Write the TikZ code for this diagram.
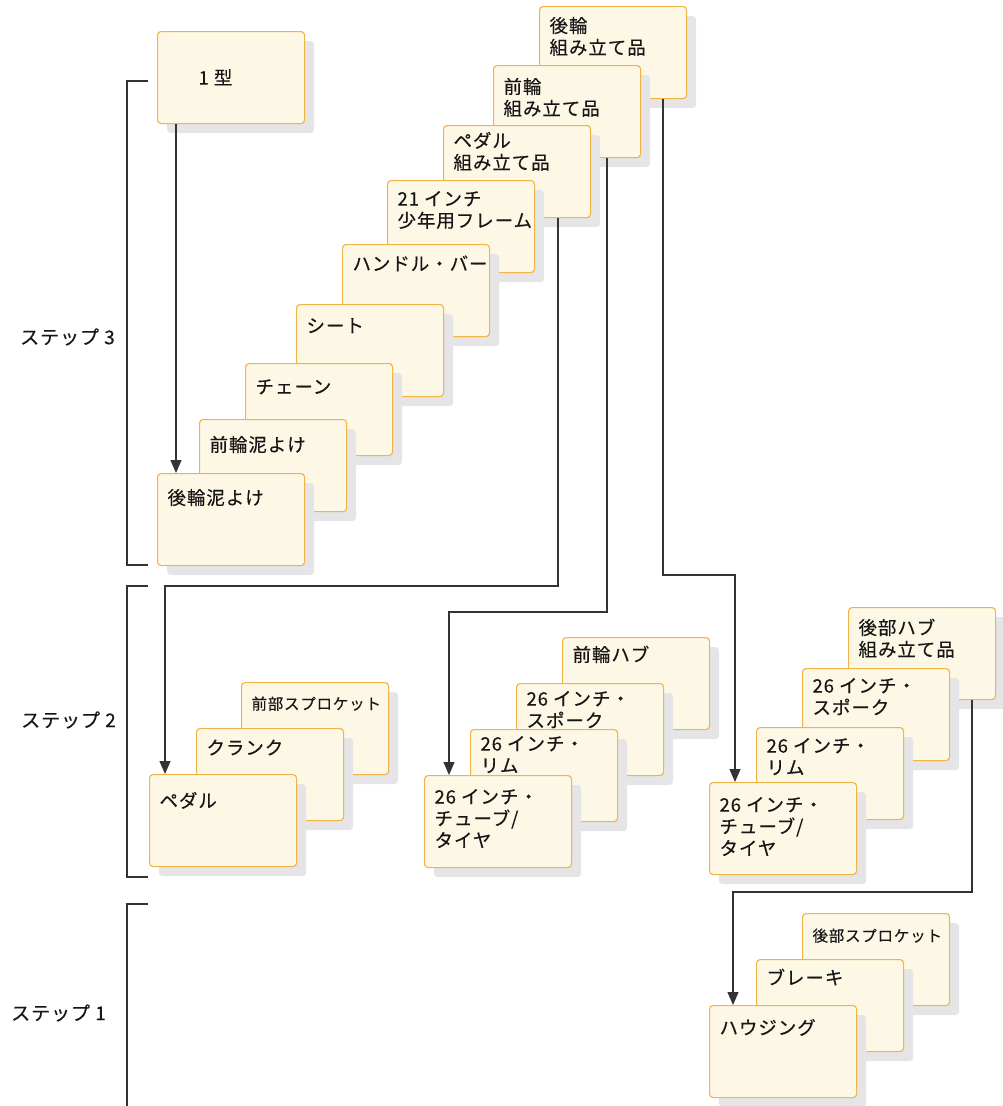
\documentclass[tikz,border=0pt]{standalone}
\usepackage{fontspec}
\setmainfont{Noto Sans CJK JP}[LetterSpace=5,FakeBold=0.3]
\usetikzlibrary{shadows,arrows.meta}
\definecolor{boxfill}{HTML}{FDF7E5}
\definecolor{boxline}{HTML}{F2B347}
\definecolor{shadowgray}{HTML}{E5E5E7}
\definecolor{linegray}{HTML}{333333}
\definecolor{textgray}{HTML}{161616}
\tikzset{
  part/.style={draw=boxline, line width=1.1pt, fill=boxfill, rounded corners=3.5pt,
    minimum width=147pt, minimum height=92pt, inner xsep=10pt, inner ysep=0pt,
    anchor=north west, text=textgray,
    drop shadow={shadow xshift=9.5pt, shadow yshift=-9.5pt, fill=shadowgray, opacity=1}},
  conn/.style={draw=linegray, line width=1.2pt, -{Triangle[length=13pt,width=11pt]}},
  brack/.style={draw=linegray, line width=1.2pt},
  steplabel/.style={anchor=west, text=textgray, inner sep=0pt, font=\fontsize{19}{22}\selectfont}
}
\newcommand\ptxt[2][29]{\parbox[c][92pt][t]{127pt}{\fontsize{18.5}{21.8}\selectfont\rule{0pt}{#1pt}#2}}
\newcommand\ptxts[2][27]{\parbox[c][92pt][t]{127pt}{\fontsize{15.5}{20}\selectfont\rule{0pt}{#1pt}#2}}
\begin{document}
\begin{tikzpicture}[x=1pt,y=-1pt]
\useasboundingbox (0,0) rectangle (1003,1106);
% step labels and brackets
\node[steplabel] (s3) at (20,337) {ステップ 3};
\node[steplabel] (s2) at (21,720) {ステップ 2};
\node[steplabel] (s1) at (11,1013) {ステップ 1};
\draw[brack] (148,81) -- (127,81) -- (127,565) -- (148,565);
\draw[brack] (148,586) -- (127,586) -- (127,877) -- (148,877);
\draw[brack] (148,904) -- (127,904) -- (127,1106);
% step 3
\node[part] (type1) at (157,31) {\parbox[c][92pt][t]{127pt}{\fontsize{18.5}{21.8}\selectfont\rule{0pt}{53pt}\hspace{31pt}1 型}};
\node[part] (rearasm) at (539,6) {\ptxt[26]{後輪\\組み立て品}};
\node[part] (frontasm) at (493,65) {\ptxt[28]{前輪\\組み立て品}};
\node[part] (pedalasm) at (443,125) {\ptxt[22]{ペダル\\組み立て品}};
\node[part] (frame) at (387,180) {\ptxt[25]{21 インチ\\少年用フレーム}};
\node[part] (handle) at (342,244) {\ptxt[26]{ハンドル・バー}};
\node[part] (seat) at (296,304) {\ptxt[28]{シート}};
\node[part] (chain) at (245,363) {\ptxt[30]{チェーン}};
\node[part] (ffender) at (199,419) {\ptxt[32]{前輪泥よけ}};
\node[part] (rfender) at (157,473) {\ptxt[31]{後輪泥よけ}};
% step 2 left
\node[part] (fspr) at (241,682) {\ptxts[27]{前部スプロケット}};
\node[part] (crank) at (196,728) {\ptxt[26]{クランク}};
\node[part] (pedal) at (149,774) {\ptxt[33]{ペダル}};
% step 2 middle
\node[part] (fhub) at (562,637) {\ptxt[24]{前輪ハブ}};
\node[part] (spoke1) at (516,683) {\ptxt[22]{26 インチ・\\スポーク}};
\node[part] (rim1) at (470,729) {\ptxt[21]{26 インチ・\\リム}};
\node[part] (tire1) at (424,775) {\ptxt[28]{26 インチ・\\チューブ/\\タイヤ}};
% step 2 right
\node[part] (rhub) at (848,607) {\ptxt[27]{後部ハブ\\組み立て品}};
\node[part] (spoke2) at (802,668) {\ptxt[24]{26 インチ・\\スポーク}};
\node[part] (rim2) at (756,727) {\ptxt[25]{26 インチ・\\リム}};
\node[part] (tire2) at (709,782) {\ptxt[29]{26 インチ・\\チューブ/\\タイヤ}};
% step 1
\node[part] (rspr) at (802,913) {\ptxts[28]{後部スプロケット}};
\node[part] (brake) at (756,959) {\ptxt[25]{ブレーキ}};
\node[part] (housing) at (709,1005) {\ptxt[29]{ハウジング}};
% connector end points and bend levels
\coordinate (ya) at (0,586);
\coordinate (yb) at (0,612);
\coordinate (yc) at (0,575);
\coordinate (yd) at (0,892);
\coordinate (tA) at ([xshift=19pt]type1.south west);
\coordinate (hA) at ([xshift=19pt]rfender.north west);
\coordinate (tB) at ([xshift=115pt]pedalasm.south west);
\coordinate (hB) at ([xshift=16pt]pedal.north west);
\coordinate (tC) at ([xshift=114pt]frontasm.south west);
\coordinate (hC) at ([xshift=25pt]tire1.north west);
\coordinate (tD) at ([xshift=124pt]rearasm.south west);
\coordinate (hD) at ([xshift=26pt]tire2.north west);
\coordinate (tE) at ([xshift=124pt]rhub.south west);
\coordinate (hE) at ([xshift=24pt]housing.north west);
% connectors
\draw[conn] (tA) -- (hA);
\draw[conn] (tB) -- (tB |- ya) -- (hB |- ya) -- (hB);
\draw[conn] (tC) -- (tC |- yb) -- (hC |- yb) -- (hC);
\draw[conn] (tD) -- (tD |- yc) -- (hD |- yc) -- (hD);
\draw[conn] (tE) -- (tE |- yd) -- (hE |- yd) -- (hE);
\end{tikzpicture}
\end{document}
